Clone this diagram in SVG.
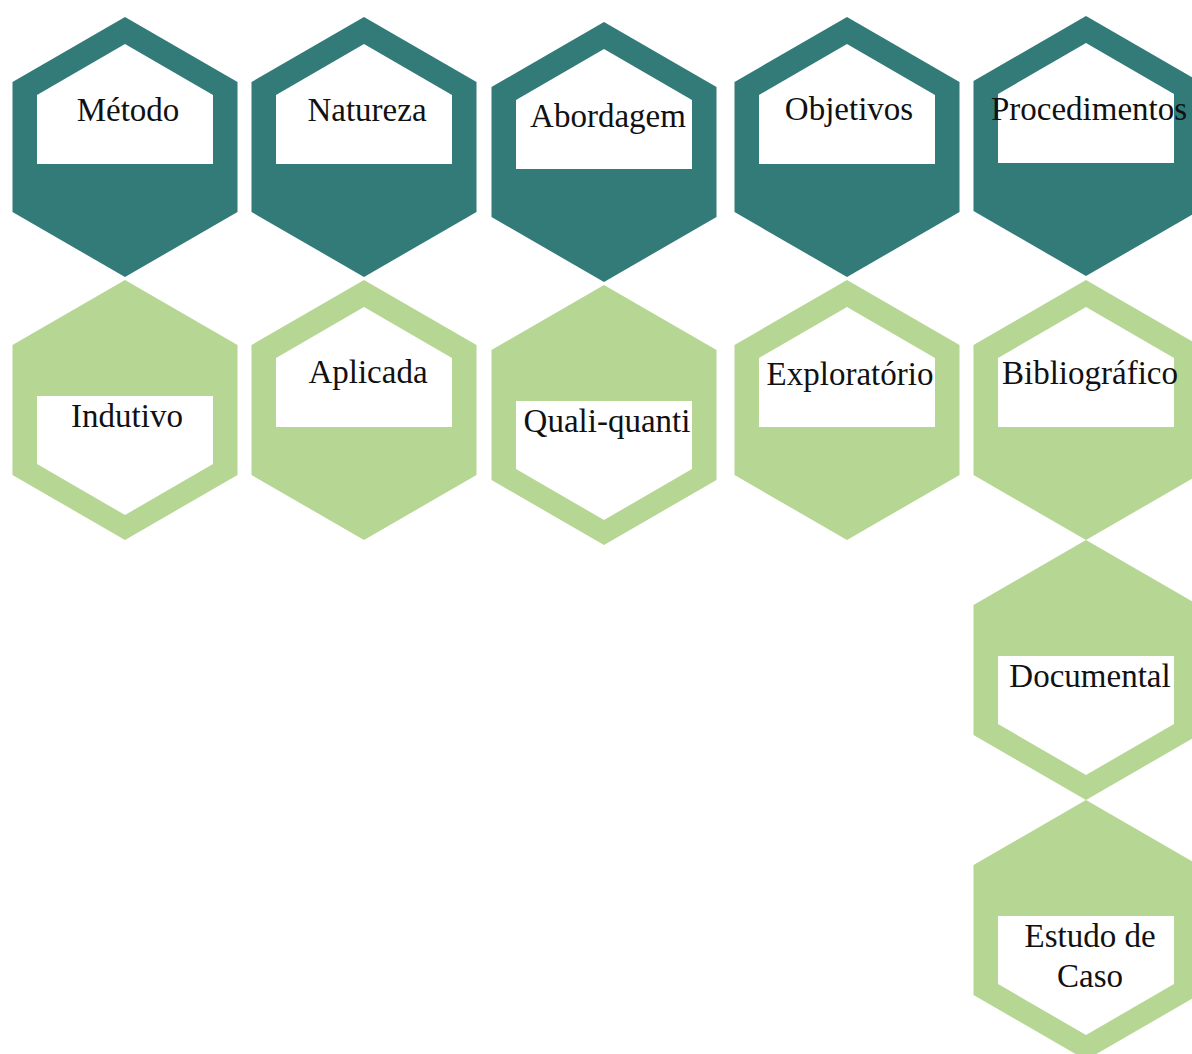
<svg xmlns="http://www.w3.org/2000/svg" width="1192" height="1054" viewBox="0 0 1192 1054">
  <style>
    .dark { fill: #327b78; }
    .light { fill: #b6d693; }
    .win { fill: #ffffff; }
    text { font-family: 'Liberation Serif', 'DejaVu Serif', serif; font-size: 33px; fill: #111111; text-anchor: middle; }
  </style>
  <defs>
    <!-- outer hexagon, top vertex at origin -->
    <polygon id="hex" points="0,0 112.5,65 112.5,195 0,260 -112.5,195 -112.5,65"/>
    <!-- white window in the upper half -->
    <polygon id="winTop" points="0,27 88,78 88,147 -88,147 -88,78"/>
    <!-- white window in the lower half -->
    <polygon id="winBot" points="-88,116 88,116 88,184 0,235 -88,184"/>
  </defs>
  <rect width="1192" height="1054" fill="#ffffff"/>

  <!-- category row -->
  <g id="metodo" transform="translate(125,17)">
    <use href="#hex" class="dark"/><use href="#winTop" class="win"/>
    <text x="3" y="104" font-family="Liberation Serif, serif">Método</text>
  </g>
  <g id="natureza" transform="translate(364,17)">
    <use href="#hex" class="dark"/><use href="#winTop" class="win"/>
    <text x="3" y="104" font-family="Liberation Serif, serif">Natureza</text>
  </g>
  <g id="abordagem" transform="translate(604,22)">
    <use href="#hex" class="dark"/><use href="#winTop" class="win"/>
    <text x="4" y="105" font-family="Liberation Serif, serif">Abordagem</text>
  </g>
  <g id="objetivos" transform="translate(847,17)">
    <use href="#hex" class="dark"/><use href="#winTop" class="win"/>
    <text x="2" y="103" font-family="Liberation Serif, serif">Objetivos</text>
  </g>
  <g id="procedimentos" transform="translate(1086,16)">
    <use href="#hex" class="dark"/><use href="#winTop" class="win"/>
    <text x="3" y="104" font-family="Liberation Serif, serif">Procedimentos</text>
  </g>

  <!-- choice row -->
  <g id="indutivo" transform="translate(125,280)">
    <use href="#hex" class="light"/><use href="#winBot" class="win"/>
    <text x="2" y="147" font-family="Liberation Serif, serif">Indutivo</text>
  </g>
  <g id="aplicada" transform="translate(364,280)">
    <use href="#hex" class="light"/><use href="#winTop" class="win"/>
    <text x="4" y="103" font-family="Liberation Serif, serif">Aplicada</text>
  </g>
  <g id="quali-quanti" transform="translate(604,285)">
    <use href="#hex" class="light"/><use href="#winBot" class="win"/>
    <text x="3" y="147" font-family="Liberation Serif, serif">Quali-quanti</text>
  </g>
  <g id="exploratorio" transform="translate(847,280)">
    <use href="#hex" class="light"/><use href="#winTop" class="win"/>
    <text x="3" y="105" font-family="Liberation Serif, serif">Exploratório</text>
  </g>
  <g id="bibliografico" transform="translate(1086,280)">
    <use href="#hex" class="light"/><use href="#winTop" class="win"/>
    <text x="4" y="104" font-family="Liberation Serif, serif">Bibliográfico</text>
  </g>
  <g id="documental" transform="translate(1086,540)">
    <use href="#hex" class="light"/><use href="#winBot" class="win"/>
    <text x="4" y="147" font-family="Liberation Serif, serif">Documental</text>
  </g>
  <g id="estudo-de-caso" transform="translate(1086,800)">
    <use href="#hex" class="light"/><use href="#winBot" class="win"/>
    <text x="4" y="147" font-family="Liberation Serif, serif">Estudo de</text>
    <text x="4" y="187" font-family="Liberation Serif, serif">Caso</text>
  </g>

  <g id="connectors"/>
</svg>
